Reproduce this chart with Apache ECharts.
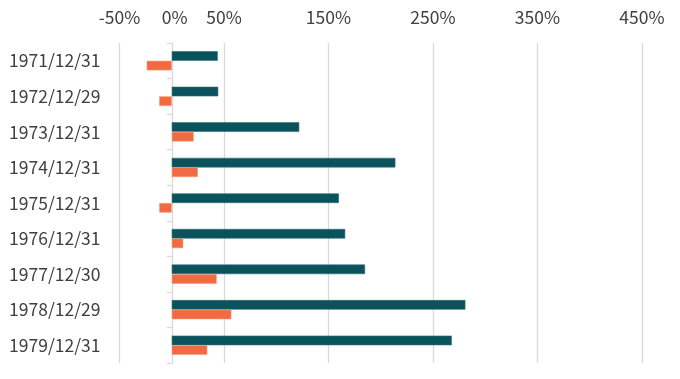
<!DOCTYPE html>
<html><head><meta charset="utf-8">
<script src="https://cdn.jsdelivr.net/npm/echarts@6/dist/echarts.min.js"></script>
<style>html,body{margin:0;padding:0;background:#fff}#c{width:680px;height:379px}</style>
</head><body><div id="c"></div>
<script>
const categories = ['1971/12/31','1972/12/29','1973/12/31','1974/12/31','1975/12/31','1976/12/31','1977/12/30','1978/12/29','1979/12/31'];
const seriesA = [44, 44.5, 122, 214, 160, 166, 185, 281, 268];
const seriesB = [-24, -12, 21, 25, -12, 11, 43, 57, 34];
const tickMin = -50, tickMax = 450, tickStep = 100;

const font = '"Noto Sans CJK JP", "Noto Sans", sans-serif';
const fs = 17.5;
const chart = echarts.init(document.getElementById('c'));
chart.setOption({
  animation: false,
  grid: { left: 119.5, right: 38, top: 43, bottom: 16, containLabel: false, outerBoundsMode: 'none' },
  xAxis: [{
    type: 'value', position: 'top', min: tickMin, max: tickMax, interval: tickStep,
    axisLine: { show: false }, axisTick: { show: false },
    splitLine: { show: true, lineStyle: { color: '#d9d9d9', width: 1.3 } },
    axisLabel: { formatter: v => v + '%', color: '#404040', fontSize: fs, fontFamily: font, margin: 17 }
  }, {
    type: 'value', position: 'top', min: tickMin, max: tickMax, interval: 50, offset: 0,
    axisLine: { show: false }, axisTick: { show: false }, splitLine: { show: false },
    axisLabel: { formatter: v => v === 0 ? '0%' : '', color: '#404040', fontSize: fs, fontFamily: font, margin: 17, padding: [0,0,0,6] }
  }],
  yAxis: {
    type: 'category', data: categories, inverse: true,
    axisLine: { show: true, onZero: true, lineStyle: { color: '#d9d9d9', width: 1.3 } },
    axisTick: { show: true, length: 5, lineStyle: { color: '#d9d9d9', width: 1.3 } },
    axisLabel: { color: '#404040', fontSize: fs, fontFamily: font, margin: 19, padding: [0,0,5,0] }
  },
  series: [{
    type: 'bar', data: seriesA, barGap: '0%', barCategoryGap: '46%',
    itemStyle: { color: '#0a535d', borderColor: '#2f6e76', borderWidth: 0.6 }
  }, {
    type: 'bar', data: seriesB, barGap: '0%', barCategoryGap: '46%',
    itemStyle: { color: '#f26a41', borderColor: '#f69a7a', borderWidth: 0.6 }
  }]
});
</script></body></html>
